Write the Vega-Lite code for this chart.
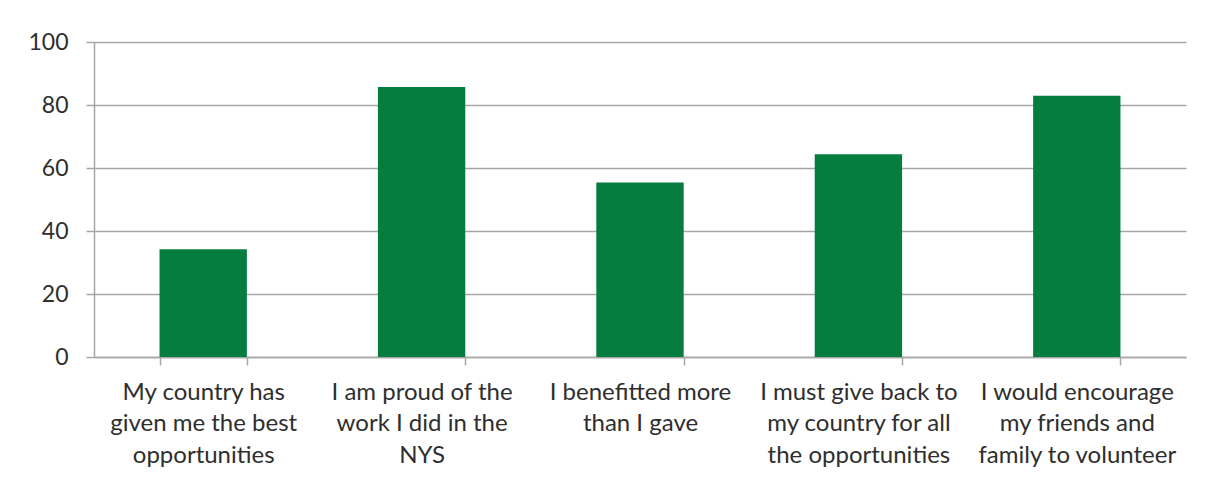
{
  "$schema": "https://vega.github.io/schema/vega-lite/v6.json",
  "width": 1092,
  "height": 315,
  "autosize": "none",
  "padding": {"left": 94, "top": 42, "right": 19, "bottom": 124},
  "background": "white",
  "data": {
    "values": [
      {"statement": "My country has|given me the best|opportunities", "percent": 34.2},
      {"statement": "I am proud of the|work I did in the|NYS", "percent": 85.7},
      {"statement": "I benefitted more|than I gave", "percent": 55.4},
      {"statement": "I must give back to|my country for all|the opportunities", "percent": 64.4},
      {"statement": "I would encourage|my friends and|family to volunteer", "percent": 82.9}
    ]
  },
  "mark": {"type": "bar", "color": "#047D3F"},
  "encoding": {
    "x": {
      "field": "statement",
      "type": "nominal",
      "sort": null,
      "scale": {"paddingInner": 0.6, "paddingOuter": 0.3},
      "axis": {
        "title": null,
        "labelAngle": 0,
        "labelExpr": "split(datum.label, '|')",
        "labelFont": "Lato",
        "labelFontSize": 24,
        "labelColor": "#2E2E2E",
        "labelLineHeight": 31.5,
        "labelPadding": 15,
        "labelOverlap": false,
        "labelLimit": 0,
        "tickBand": "extent",
        "tickSize": 8,
        "tickColor": "#A6A6A6",
        "tickWidth": 1.5,
        "domainColor": "#A6A6A6",
        "domainWidth": 1.5,
        "grid": false
      }
    },
    "y": {
      "field": "percent",
      "type": "quantitative",
      "scale": {"domain": [0, 100], "nice": false},
      "axis": {
        "title": null,
        "values": [0, 20, 40, 60, 80, 100],
        "labelFont": "Lato",
        "labelFontSize": 23,
        "labelColor": "#2E2E2E",
        "labelPadding": 18,
        "tickSize": 8,
        "tickColor": "#A6A6A6",
        "tickWidth": 1.5,
        "domainColor": "#A6A6A6",
        "domainWidth": 1.5,
        "grid": true,
        "gridColor": "#A6A6A6",
        "gridWidth": 1.5
      }
    }
  },
  "config": {"view": {"stroke": null}}
}
